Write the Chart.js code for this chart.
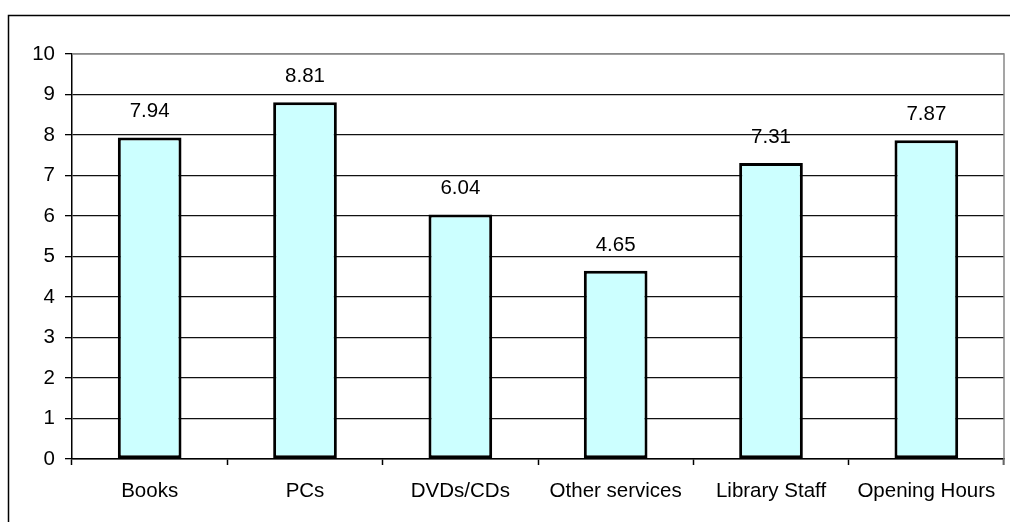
<!DOCTYPE html>
<html>
<head>
<meta charset="utf-8">
<script src="https://cdn.jsdelivr.net/npm/chart.js@4/dist/chart.umd.min.js"></script>
<style>
html,body{margin:0;padding:0;background:#fff;}
#wrap{position:relative;width:1010px;height:522px;}
</style>
</head>
<body>
<div id="wrap"><canvas id="c" width="1010" height="522"></canvas></div>
<script>
const categories = ["Books", "PCs", "DVDs/CDs", "Other services", "Library Staff", "Opening Hours"];
const scores = [7.94, 8.81, 6.04, 4.65, 7.31, 7.87];
const yTicks = [0, 1, 2, 3, 4, 5, 6, 7, 8, 9, 10];

const FONT = "'Liberation Sans', Arial, sans-serif";
const FS = 20.5;

const framePlugin = {
  id: 'frame',
  beforeDraw(chart) {
    const ctx = chart.ctx;
    ctx.save();
    ctx.fillStyle = '#fff';
    ctx.fillRect(0, 0, chart.width, chart.height);
    ctx.strokeStyle = '#000';
    ctx.lineWidth = 1.5;
    ctx.strokeRect(8.5, 15.5, 1100, 600);
    ctx.restore();
  },
  afterDraw(chart) {
    const ctx = chart.ctx;
    const a = chart.chartArea;
    ctx.save();
    ctx.strokeStyle = '#888';
    ctx.lineWidth = 1.5;
    ctx.beginPath();
    ctx.moveTo(a.left, a.top);
    ctx.lineTo(a.right, a.top);
    ctx.lineTo(a.right, a.bottom + 6);
    ctx.stroke();
    // value labels
    const meta = chart.getDatasetMeta(0);
    ctx.fillStyle = '#000';
    ctx.font = FS + 'px ' + FONT;
    ctx.textAlign = 'center';
    ctx.textBaseline = 'alphabetic';
    meta.data.forEach((bar, i) => {
      ctx.fillText(scores[i].toFixed(2), bar.x, bar.y - 20);
    });
    ctx.restore();
  }
};

new Chart(document.getElementById('c'), {
  type: 'bar',
  data: {
    labels: categories,
    datasets: [{
      data: scores,
      backgroundColor: '#CCFFFF',
      borderColor: '#000',
      borderWidth: 3,
      borderSkipped: false,
      categoryPercentage: 1,
      barPercentage: 0.41
    }]
  },
  options: {
    responsive: false,
    animation: false,
    devicePixelRatio: 1,
    layout: { padding: { left: 0, right: 6, top: 54, bottom: 0 } },
    plugins: { legend: { display: false }, tooltip: { enabled: false } },
    scales: {
      x: {
        offset: true,
        grid: { display: true, drawOnChartArea: false, offset: true, tickLength: 6, tickColor: '#000', tickWidth: 1.5 },
        border: { color: '#000', width: 1.5 },
        ticks: { color: '#000', font: { family: FONT, size: FS }, padding: 14, maxRotation: 0, autoSkip: false },
        afterFit(s) { s.height = 63; }
      },
      y: {
        min: 0, max: 10,
        afterBuildTicks(s) { s.ticks = yTicks.map(v => ({ value: v })); },
        grid: {
          color: ctx => (ctx.tick && ctx.tick.value === 10) ? '#888' : '#111',
          lineWidth: 1.3,
          tickLength: 7, tickColor: '#000', tickWidth: 1.3
        },
        border: { color: '#000', width: 1.5 },
        ticks: { color: '#000', font: { family: FONT, size: FS }, padding: 10 },
        afterFit(s) { s.width = 72; }
      }
    }
  },
  plugins: [framePlugin]
});
</script>
</body>
</html>
